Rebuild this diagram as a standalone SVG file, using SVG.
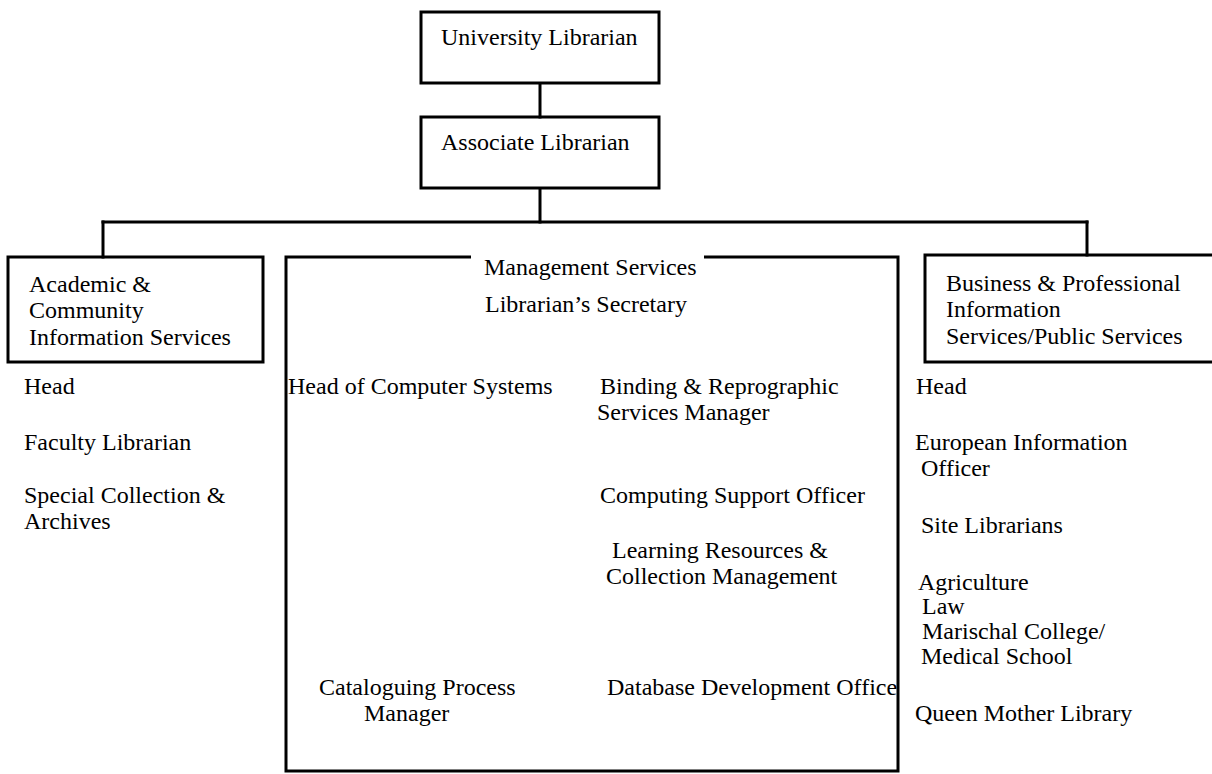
<svg xmlns="http://www.w3.org/2000/svg" width="1212" height="774" viewBox="0 0 1212 774">
  <style>
    .box { fill: none; stroke: #000; stroke-width: 3; }
    .wire { fill: none; stroke: #000; stroke-width: 3; stroke-linecap: square; }
    text { font-family: "Liberation Serif", "Times New Roman", serif; font-size: 24px; fill: #000; }
  </style>
  <rect width="1212" height="774" fill="#fff"/>

  <!-- connectors -->
  <g id="connectors">
    <line class="wire" x1="540" y1="84" x2="540" y2="117"/>
    <line class="wire" x1="540" y1="189" x2="540" y2="222"/>
    <line class="wire" x1="103" y1="222" x2="1087" y2="222"/>
    <line class="wire" x1="103" y1="222" x2="103" y2="257"/>
    <line class="wire" x1="1087" y1="222" x2="1087" y2="255"/>
  </g>

  <g id="university-librarian">
    <rect class="box" x="421" y="12" width="238" height="71"/>
    <text x="441" y="45">University Librarian</text>
  </g>

  <g id="associate-librarian">
    <rect class="box" x="421" y="117" width="238" height="71"/>
    <text x="441" y="150">Associate Librarian</text>
  </g>

  <g id="academic-community">
    <rect class="box" x="8" y="257" width="255" height="105"/>
    <text x="29" y="292">Academic &amp;</text>
    <text x="29" y="318">Community</text>
    <text x="29" y="345">Information Services</text>
  </g>

  <g id="academic-staff">
    <text x="24" y="394">Head</text>
    <text x="24" y="450">Faculty Librarian</text>
    <text x="24" y="503">Special Collection &amp;</text>
    <text x="24" y="529">Archives</text>
  </g>

  <g id="management-services">
    <!-- outline left open along the top where the heading sits -->
    <path class="box" d="M471 257 H286 V771 H898 V257 H704"/>
    <text x="484" y="275">Management Services</text>
    <text x="485" y="312">Librarian’s Secretary</text>
    <text x="288" y="394">Head of Computer Systems</text>
    <text x="600" y="394">Binding &amp; Reprographic</text>
    <text x="597" y="420">Services Manager</text>
    <text x="600" y="503">Computing Support Officer</text>
    <text x="612" y="558">Learning Resources &amp;</text>
    <text x="606" y="584">Collection Management</text>
    <text x="319" y="695">Cataloguing Process</text>
    <text x="364" y="721">Manager</text>
    <text x="607" y="695">Database Development Office</text>
  </g>

  <g id="business-professional">
    <rect class="box" x="925" y="255" width="300" height="107"/>
    <text x="946" y="291">Business &amp; Professional</text>
    <text x="946" y="317">Information</text>
    <text x="946" y="344">Services/Public Services</text>
  </g>

  <g id="business-staff">
    <text x="916" y="394">Head</text>
    <text x="915" y="450">European Information</text>
    <text x="921" y="476">Officer</text>
    <text x="921" y="533">Site Librarians</text>
    <text x="918" y="590">Agriculture</text>
    <text x="922" y="614">Law</text>
    <text x="922" y="639">Marischal College/</text>
    <text x="921" y="664">Medical School</text>
    <text x="915" y="721">Queen Mother Library</text>
  </g>
</svg>
